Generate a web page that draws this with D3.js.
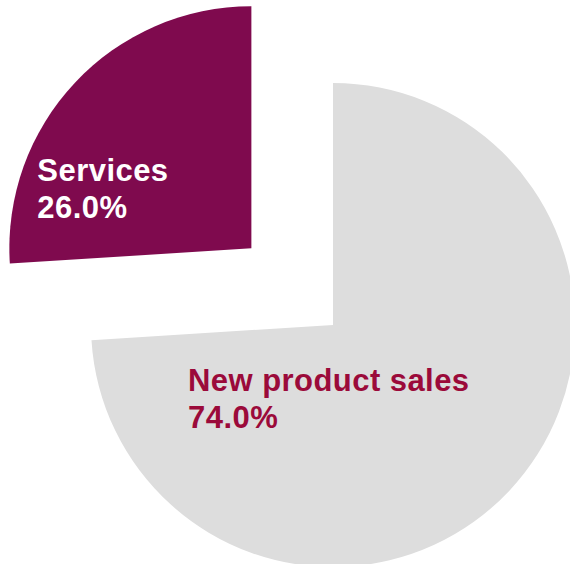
<!DOCTYPE html>
<html>
<head>
<meta charset="utf-8">
<script src="https://cdn.jsdelivr.net/npm/d3@7"></script>
<style>
  html, body { margin: 0; padding: 0; background: #ffffff; }
  svg { display: block; }
  text { font-family: "Liberation Sans", Arial, sans-serif; font-weight: bold; letter-spacing: 0.45px; }
</style>
</head>
<body>
<script>
// Revenue split
const categories = ["New product sales", "Services"];
const values = [74.0, 26.0];
const sliceColors = ["#dddddd", "#7f0a4e"];
const labelColors = ["#9b0a3a", "#ffffff"];

const width = 570, height = 564;
const cx = 333, cy = 325, radius = 242;
const explode = [0, 112];
// label block origin relative to the (exploded) slice apex
const labelOffset = [[-145, 66], [-214, -67]];

const svg = d3.select("body").append("svg")
  .attr("width", width).attr("height", height);

const pie = d3.pie().sort(null).value(d => d.value).startAngle(0).endAngle(2 * Math.PI);
const arcs = pie(categories.map((c, i) => ({ name: c, value: values[i], i })));
const arc = d3.arc().innerRadius(0).outerRadius(radius);

const g = svg.append("g").attr("transform", `translate(${cx},${cy})`);

const slice = g.selectAll("g.slice").data(arcs).join("g")
  .attr("class", "slice")
  .attr("transform", d => {
    const mid = (d.startAngle + d.endAngle) / 2;
    const k = explode[d.data.i];
    return `translate(${Math.sin(mid) * k},${-Math.cos(mid) * k})`;
  });

slice.append("path")
  .attr("d", arc)
  .attr("fill", d => sliceColors[d.data.i]);

const label = slice.append("text")
  .attr("fill", d => labelColors[d.data.i])
  .attr("font-size", 31)
  .attr("x", d => labelOffset[d.data.i][0])
  .attr("y", d => labelOffset[d.data.i][1]);

label.append("tspan")
  .attr("x", d => labelOffset[d.data.i][0])
  .text(d => d.data.name);
label.append("tspan")
  .attr("x", d => labelOffset[d.data.i][0])
  .attr("dy", 37)
  .text(d => d.data.value.toFixed(1) + "%");
</script>
</body>
</html>
